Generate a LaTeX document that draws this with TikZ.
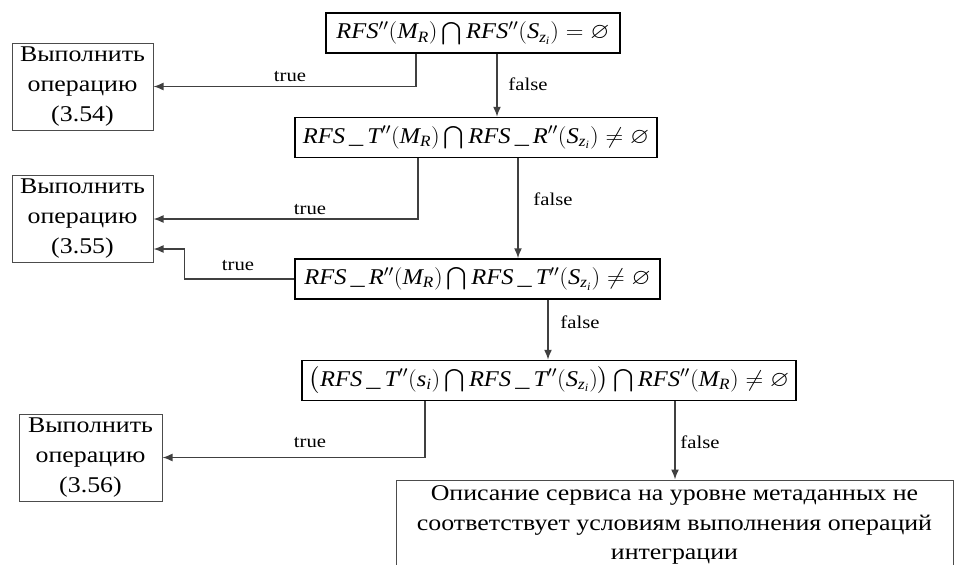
\RequirePackage{fix-cm}
\documentclass[tikz,border=0pt]{standalone}
\usepackage{amsmath}
\usepackage{amssymb}
\usepackage{fontspec}
\setmainfont[FakeStretch=1.15]{Liberation Serif}
\setmathrm{Liberation Serif}
\usepackage{tikz}
\usetikzlibrary{arrows.meta}
\usepackage{xcolor}

\newcommand{\mv}[1]{\mathit{#1}}
\newcommand{\wide}[1]{\scalebox{1.09}[1]{#1}}

\begin{document}
\begin{tikzpicture}[x=1pt,y=-1pt,>={Latex[length=10pt,width=8pt]},
  cond/.style={draw=black,line width=1.5pt,minimum height=40pt,inner sep=0pt,font=\fontsize{22.5}{26}\selectfont},
  oper/.style={draw=black!70,line width=1pt,align=center,minimum height=87pt,inner sep=1pt,font=\fontsize{22.5}{30}\selectfont},
  link/.style={->,draw=black!75,line width=1.5pt},
  lbl/.style={font=\fontsize{18}{22}\selectfont}]
\useasboundingbox (0,0) rectangle (954,565);
\clip (0,0) rectangle (954,565);

\node[cond,minimum width=294pt] (condA) at (473,33) {\wide{$\mv{RFS}''(\mv{M}_{\mv{R}})\bigcap\mv{RFS}''(\mv{S}_{\mv{z}_{\mv{i}}})=\varnothing$}};
\node[cond,minimum width=362pt] (condB) at (476,137.5) {\wide{$\mv{RFS}\,\_\,\mv{T}''(\mv{M}_{\mv{R}})\bigcap\mv{RFS}\,\_\,\mv{R}''(\mv{S}_{\mv{z}_{\mv{i}}})\neq\varnothing$}};
\node[cond,minimum width=365pt] (condC) at (477.5,279) {\wide{$\mv{RFS}\,\_\,\mv{R}''(\mv{M}_{\mv{R}})\bigcap\mv{RFS}\,\_\,\mv{T}''(\mv{S}_{\mv{z}_{\mv{i}}})\neq\varnothing$}};
\node[cond,minimum width=494pt] (condD) at (549,380.5) {\wide{$\bigl(\mv{RFS}\,\_\,\mv{T}''(\mv{s}_{\mv{i}})\bigcap\mv{RFS}\,\_\,\mv{T}''(\mv{S}_{\mv{z}_{\mv{i}}})\bigr)\bigcap\mv{RFS}''(\mv{M}_{\mv{R}})\neq\varnothing$}};

\node[oper,minimum width=141pt] (op1) at (82.5,86.5) {Выполнить\\операцию\\(3.54)};
\node[oper,minimum width=141pt] (op2) at (82.5,219) {Выполнить\\операцию\\(3.55)};
\node[oper,minimum width=143pt] (op3) at (90.5,457.5) {Выполнить\\операцию\\(3.56)};
\node[oper,minimum width=557pt,minimum height=90pt,font=\fontsize{22.5}{29.5}\selectfont] (final) at (674.5,525) {Описание сервиса на уровне метаданных не\\соответствует условиям выполнения операций\\интеграции};

\draw[link] (condA.south -| 416,0) |- (op1.east);
\draw[link] (condA.south -| 497,0) -- (condB.north -| 497,0);
\draw[link] (condB.south -| 418,0) |- (op2.east);
\draw[link] (condB.south -| 518,0) -- (condC.north -| 518,0);
\draw[link] (condC.west) -| ([xshift=31pt,yshift=-30pt]op2.east) -- ([yshift=-30pt]op2.east);
\draw[link] (condC.south -| 548,0) -- (condD.north -| 548,0);
\draw[link] (condD.south -| 425,0) |- (op3.east);
\draw[link] (condD.south -| 675,0) -- (final.north -| 675,0);

\node[lbl] (tA) at (290,77) {true};
\node[lbl] (fA) at (528,84) {false};
\node[lbl] (tB) at (310,210) {true};
\node[lbl] (fB) at (553,199) {false};
\node[lbl] (tC) at (238,266) {true};
\node[lbl] (fC) at (580,322) {false};
\node[lbl] (tD) at (310,443) {true};
\node[lbl] (fD) at (700,442) {false};
\end{tikzpicture}
\end{document}
